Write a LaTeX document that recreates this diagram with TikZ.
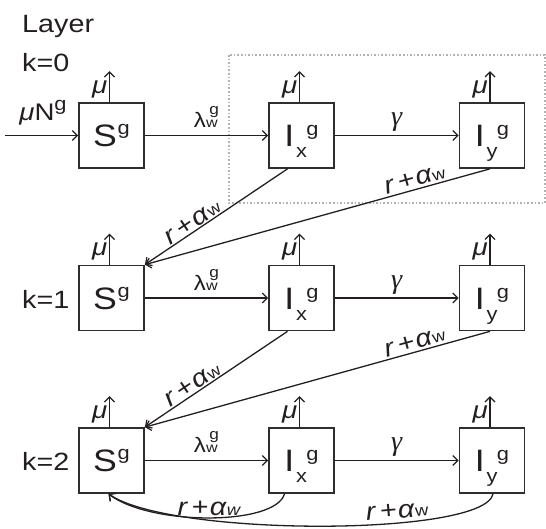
\documentclass[tikz,border=0pt]{standalone}
\usepackage{fontspec}
\setmainfont{Liberation Sans}
\newfontfamily\grserif{Liberation Serif}
\usetikzlibrary{arrows.meta}
\definecolor{ink}{HTML}{231F20}
\definecolor{boxc}{HTML}{2E2E2E}
\newcommand{\hs}[1]{\scalebox{1.15}[1]{#1}}
\newcommand{\fbig}{\fontsize{31}{31}\selectfont}
\newcommand{\fsup}{\fontsize{19}{19}\selectfont}
\newcommand{\Sg}{\hs{{\fbig S}\kern0.5pt\raisebox{12pt}{\fsup g}}}
\newcommand{\Ig}[1]{\hs{{\fbig I}\kern1.5pt\raisebox{-11pt}{\fsup #1}\kern-0.5pt\raisebox{11pt}{\fsup g}}}
\newcommand{\lam}{\hs{{\fontsize{21}{21}\selectfont λ}\rlap{\fontsize{14}{14}\selectfont w}\kern3pt\raisebox{13pt}{\fontsize{15}{15}\selectfont g}}}
\newcommand{\ra}{\hs{{\fontsize{25}{25}\selectfont{\itshape r}\kern4pt+\kern1pt{\itshape α}}\kern0.5pt{\fontsize{16}{16}\selectfont w}}}
\newcommand{\rai}{\hs{{\fontsize{25}{25}\selectfont{\itshape r}\kern4pt+\kern1pt{\itshape α}}\kern0.5pt{\fontsize{16}{16}\selectfont\itshape w}}}
\newcommand{\gam}{{\fontsize{28}{28}\selectfont\grserif\itshape γ}}
\newcommand{\muN}{\hs{{\fontsize{24}{24}\selectfont{\itshape μ}N}\raisebox{10pt}{\fsup g}}}
\begin{document}
\begin{tikzpicture}[x=1pt,y=-1pt,
  box/.style={draw=boxc, line width=1.7pt, minimum width=65pt, minimum height=65pt,
    inner sep=0pt, text height=22pt, text depth=0pt, text=ink},
  arr/.style={draw=ink, line width=1.3pt, -{Straight Barb[length=5pt,width=10pt,line width=1.2pt]}},
  lbl/.style={text=ink, inner sep=0pt},
  mulab/.style={lbl, anchor=base east},
  big/.style={lbl, anchor=base west}]
\useasboundingbox (0,0) rectangle (546,528);
% dotted frame
\draw[gray!60, line width=1.6pt, dash pattern=on 1.6pt off 2pt] (229,55) rectangle (545,203);
% layer labels
\node[big] (layer) at (22,32) {\hs{\fontsize{25}{25}\selectfont Layer}};
\node[big] (k0) at (22,71) {\hs{\fontsize{25}{25}\selectfont k=0}};
\node[big] (k1) at (22,308) {\hs{\fontsize{25}{25}\selectfont k=1}};
\node[big] (k2) at (22,470.5) {\hs{\fontsize{25}{25}\selectfont k=2}};
% boxes
\node[box] (S0) at (111.5,135.5) {\Sg};
\node[box] (Ix0) at (301.5,135.5) {\Ig{x}};
\node[box] (Iy0) at (492,135.5) {\Ig{y}};
\node[box] (S1) at (111.5,298) {\Sg};
\node[box] (Ix1) at (301.5,298) {\Ig{x}};
\node[box] (Iy1) at (492,298) {\Ig{y}};
\node[box] (S2) at (111.5,460.5) {\Sg};
\node[box] (Ix2) at (301.5,460.5) {\Ig{x}};
\node[box] (Iy2) at (492,460.5) {\Ig{y}};
% mu outflows
\foreach \n in {S0,Ix0,Iy0,S1,Ix1,Iy1,S2,Ix2,Iy2}{
  \coordinate (\n mu) at ([xshift=-2pt,yshift=31pt]\n.north);
  \draw[arr] ([xshift=-2pt]\n.north) -- (\n mu);
  \node[mulab] (\n mulab) at ([xshift=-4pt,yshift=9pt]\n.north) {\hs{\fontsize{24}{24}\selectfont\itshape μ}};
}
% input
\coordinate (in0) at (5,135.5);
\draw[arr] (in0) -- node[lbl, above=10pt, pos=0.52] (inlab) {\muN} (S0.west);
% horizontal transitions
\foreach \r in {0,1,2}{
  \draw[arr] (S\r.east) -- node[lbl, above=7pt] {\lam} (Ix\r.west);
  \draw[arr] (Ix\r.east) -- node[lbl, above=3pt] {\gam} (Iy\r.west);
}
% recovery to next layer
\foreach \r/\s in {0/1,1/2}{
  \draw[arr] ([xshift=-14pt]Ix\r.south) -- node[lbl, sloped, above=1pt, pos=0.63] {\ra} (S\s.north east);
  \draw[arr] ([xshift=-2pt]Iy\r.south) -- node[lbl, sloped, above=2pt, pos=0.21] {\ra} (S\s.north east);
}
% bottom layer loops
\draw[arr] ([xshift=-17pt]Ix2.south) .. controls +(-9,32) and +(42,32) .. node[lbl, above=1pt, pos=0.5] {\rai} ([xshift=-3pt]S2.south);
\draw[arr] ([xshift=1pt]Iy2.south) .. controls +(-8,43) and +(62,43) .. node[lbl, sloped, above=4pt, pos=0.345] {\ra} ([xshift=-3pt]S2.south);
\end{tikzpicture}
\end{document}
